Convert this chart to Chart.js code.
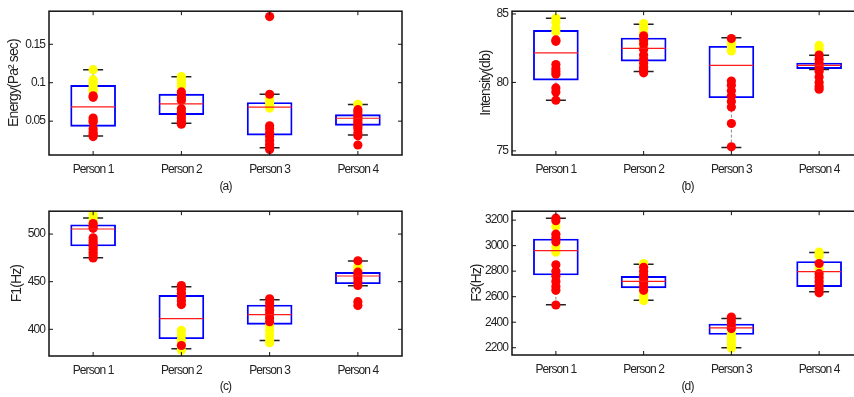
<!DOCTYPE html>
<html>
<head>
<meta charset="utf-8">
<script src="https://cdn.jsdelivr.net/npm/chart.js@4.4.1/dist/chart.umd.min.js"></script>
<style>
  body { margin: 0; width: 854px; height: 397px; overflow: hidden; background: #fff; position: relative; }
  canvas { position: absolute; }
</style>
</head>
<body>
<canvas id="chartA" width="427" height="200" style="left:0;top:0"></canvas>
<canvas id="chartB" width="445" height="200" style="left:427px;top:0"></canvas>
<canvas id="chartC" width="427" height="197" style="left:0;top:200px"></canvas>
<canvas id="chartD" width="445" height="197" style="left:427px;top:200px"></canvas>
<script>
var persons = ['Person 1', 'Person 2', 'Person 3', 'Person 4'];

// each row: low whisker, q1, median, q3, high whisker
var energyStats = [
  [0.0306, 0.0433, 0.0686, 0.0965, 0.117],
  [0.0472, 0.0585, 0.0725, 0.0852, 0.1079],
  [0.0153, 0.0319, 0.0682, 0.0742, 0.085],
  [0.0319, 0.0446, 0.0538, 0.0585, 0.0716]
];
var energyYellow = [
  [0.117, 0.104, 0.100, 0.096, 0.092, 0.089],
  [0.108, 0.104, 0.099, 0.095],
  [0.079, 0.075, 0.071, 0.067],
  [0.072]
];
var energyRed = [
  [0.083, 0.081, 0.054, 0.051, 0.049, 0.040, 0.036, 0.033, 0.030],
  [0.088, 0.084, 0.080, 0.077, 0.066, 0.062, 0.058, 0.054, 0.050, 0.046],
  [0.186, 0.085, 0.044, 0.040, 0.035, 0.030, 0.025, 0.020, 0.016, 0.013],
  [0.065, 0.062, 0.058, 0.055, 0.052, 0.049, 0.046, 0.043, 0.040, 0.035, 0.031, 0.019]
];
var energyTicks = [0.05, 0.1, 0.15];

var intensityStats = [
  [78.70, 80.17, 82.16, 83.80, 84.68],
  [80.79, 81.56, 82.48, 83.24, 84.25],
  [75.24, 78.88, 81.25, 82.64, 83.27],
  [80.94, 81.01, 81.25, 81.42, 81.99]
];
var intensityYellow = [
  [84.7, 84.4, 84.0, 83.7],
  [84.3, 84.0, 83.6, 83.0, 82.6],
  [82.9, 82.6, 82.3],
  [82.7, 82.4]
];
var intensityRed = [
  [83.1, 83.0, 81.3, 81.0, 80.8, 80.6, 79.6, 79.3, 78.7],
  [83.4, 83.1, 82.8, 82.4, 82.0, 81.7, 81.4, 81.1, 80.9, 80.7],
  [83.2, 80.1, 79.8, 79.4, 79.0, 78.6, 78.2, 77.0, 75.3],
  [82.0, 81.7, 81.4, 81.2, 81.0, 80.8, 80.4, 80.0, 79.7, 79.5]
];
var intensityTicks = [75, 80, 85];

var f1Stats = [
  [475.2, 487.5, 505.3, 509.8, 516.8],
  [379.7, 390.2, 411.2, 435.6, 444.8],
  [388.4, 405.2, 415.4, 425.5, 431.1],
  [445.8, 447.9, 456.0, 459.8, 471.7]
];
var f1Yellow = [
  [520, 516, 512],
  [399, 394, 389, 384, 378],
  [404, 399, 394, 389, 386],
  [466, 463]
];
var f1Red = [
  [511, 508, 506, 496, 493, 490, 487, 484, 481, 478, 475],
  [446, 442, 438, 434, 430, 426, 383],
  [432, 428, 424, 420, 416, 412, 408],
  [472, 460, 457, 454, 450, 446, 429, 425]
];
var f1Ticks = [400, 450, 500];

var f3Stats = [
  [2537, 2770, 2961, 3052, 3215],
  [2573, 2669, 2720, 2759, 2855],
  [2200, 2304, 2355, 2386, 2430],
  [2638, 2679, 2796, 2876, 2946]
];
var f3Yellow = [
  [3150, 2990, 2950],
  [2860, 2630, 2600, 2570],
  [2310, 2280, 2250, 2220, 2195],
  [2950, 2920, 2820]
];
var f3Red = [
  [3215, 3195, 3090, 3060, 3030, 2850, 2800, 2760, 2720, 2680, 2650, 2535],
  [2830, 2800, 2770, 2740, 2710, 2680, 2650],
  [2440, 2410, 2380, 2350],
  [2860, 2780, 2750, 2720, 2690, 2660, 2630]
];
var f3Ticks = [2200, 2400, 2600, 2800, 3000, 3200];

Chart.defaults.font.family = "'Liberation Sans', Arial, sans-serif";
Chart.defaults.font.size = 12;
Chart.defaults.color = '#222';

// the original text is a narrow face, tighten the letters a bit
var tightText = {
  id: 'tightText',
  beforeUpdate: function(chart) { chart.ctx.letterSpacing = '-0.9px'; },
  beforeDraw: function(chart) { chart.ctx.letterSpacing = '-0.9px'; }
};

// box frame and inward ticks, like the matlab axes
var framePlugin = {
  id: 'frame',
  afterDatasetsDraw: function(chart) {
    var a = chart.chartArea, ctx = chart.ctx;
    ctx.save();
    ctx.strokeStyle = '#111';
    ctx.lineWidth = 1.5;
    ctx.strokeRect(a.left, a.top, a.right - a.left, a.bottom - a.top);
    ctx.lineWidth = 1;
    ctx.beginPath();
    chart.scales.y.ticks.forEach(function(t) {
      var p = chart.scales.y.getPixelForValue(t.value);
      ctx.moveTo(a.left, p); ctx.lineTo(a.left + 4, p);
      ctx.moveTo(a.right - 4, p); ctx.lineTo(a.right, p);
    });
    chart.scales.x.ticks.forEach(function(t) {
      var p = chart.scales.x.getPixelForValue(t.value);
      ctx.moveTo(p, a.bottom); ctx.lineTo(p, a.bottom - 4);
      ctx.moveTo(p, a.top); ctx.lineTo(p, a.top + 4);
    });
    ctx.stroke();
    ctx.restore();
  }
};

function makePanel(id, stats, yellow, red, ticks, yMin, yMax, yTitle, xTitle, lay) {
  var whisker = [], caps = [], boxes = [], medians = [], yPts = [], rPts = [];
  stats.forEach(function(s, i) {
    var x = i + 1;
    whisker.push({x: x, y: s[0]}, {x: x, y: s[1]}, {x: x, y: null},
                 {x: x, y: s[3]}, {x: x, y: s[4]}, {x: x, y: null});
    caps.push({x: x, y: s[0]}, {x: x, y: s[4]});
    boxes.push({x: x, y: [s[1], s[3]]});
    medians.push({x: x, y: s[2]});
    yellow[i].forEach(function(v) { yPts.push({x: x, y: v}); });
    red[i].forEach(function(v) { rPts.push({x: x, y: v}); });
  });

  return new Chart(document.getElementById(id), {
    data: {
      datasets: [
        {
          type: 'scatter', data: whisker, showLine: true, spanGaps: false,
          borderColor: '#888', borderWidth: 1, borderDash: [3, 2],
          pointRadius: 0, order: 5
        },
        {
          type: 'bar', data: boxes, barThickness: 45,
          backgroundColor: 'rgba(0,0,0,0)', borderColor: '#0000ff',
          borderWidth: 1.2, borderSkipped: false, order: 4
        },
        {
          type: 'scatter', data: caps, pointStyle: 'line', pointRadius: 10,
          borderColor: '#222', borderWidth: 1.5, order: 3
        },
        {
          type: 'scatter', data: yPts, pointRadius: 4.6, borderWidth: 0,
          backgroundColor: '#ffff00', order: 2
        },
        {
          type: 'scatter', data: rPts, pointRadius: 4.6, borderWidth: 0,
          backgroundColor: '#ff0000', order: 1
        },
        {
          type: 'scatter', data: medians, pointStyle: 'line', pointRadius: 22,
          borderColor: '#ff1a1a', borderWidth: 1.2, order: 0
        }
      ]
    },
    options: {
      responsive: false,
      animation: false,
      events: [],
      layout: {
        autoPadding: false,
        padding: { left: lay.padLeft, top: lay.padTop, right: lay.padRight, bottom: 0 }
      },
      plugins: { legend: { display: false }, tooltip: { enabled: false } },
      scales: {
        x: {
          type: 'linear', min: 0.5, max: 4.5, offset: false,
          afterBuildTicks: function(s) { s.ticks = [1, 2, 3, 4].map(function(v) { return {value: v}; }); },
          afterFit: function(s) { s.height = lay.xHeight; },
          ticks: { padding: 7, callback: function(v) { return persons[v - 1]; } },
          grid: { display: false, drawTicks: false },
          border: { display: false },
          title: { display: true, text: xTitle, padding: { top: 0, bottom: lay.xTitlePad } }
        },
        y: {
          min: yMin, max: yMax,
          afterBuildTicks: function(s) { s.ticks = ticks.map(function(v) { return {value: v}; }); },
          afterFit: function(s) { s.width = lay.yWidth; },
          ticks: { padding: 4, callback: function(v) { return String(v); } },
          grid: { display: false, drawTicks: false },
          border: { display: false },
          title: { display: true, text: yTitle, font: { size: 14 }, padding: { top: lay.yTitlePad, bottom: 0 } }
        }
      }
    },
    plugins: [tightText, framePlugin]
  });
}

makePanel('chartA', energyStats, energyYellow, energyRed, energyTicks, 0.006, 0.193,
  'Energy(Pa\u00b2 sec)', '(a)',
  { padLeft: 0, padTop: 11, padRight: 25, yWidth: 49, xHeight: 45, xTitlePad: 6, yTitlePad: 6 });

makePanel('chartB', intensityStats, intensityYellow, intensityRed, intensityTicks, 74.7, 85.2,
  'Intensity(db)', '(b)',
  { padLeft: 50, padTop: 10, padRight: 9, yWidth: 35, xHeight: 45, xTitlePad: 6, yTitlePad: 1 });

makePanel('chartC', f1Stats, f1Yellow, f1Red, f1Ticks, 372, 524,
  'F1(Hz)', '(c)',
  { padLeft: 0, padTop: 11, padRight: 25, yWidth: 49, xHeight: 41, xTitlePad: 3, yTitlePad: 9 });

makePanel('chartD', f3Stats, f3Yellow, f3Red, f3Ticks, 2143, 3270,
  'F3(Hz)', '(d)',
  { padLeft: 40, padTop: 10, padRight: 9, yWidth: 45, xHeight: 42, xTitlePad: 3, yTitlePad: 2 });
</script>
</body>
</html>
